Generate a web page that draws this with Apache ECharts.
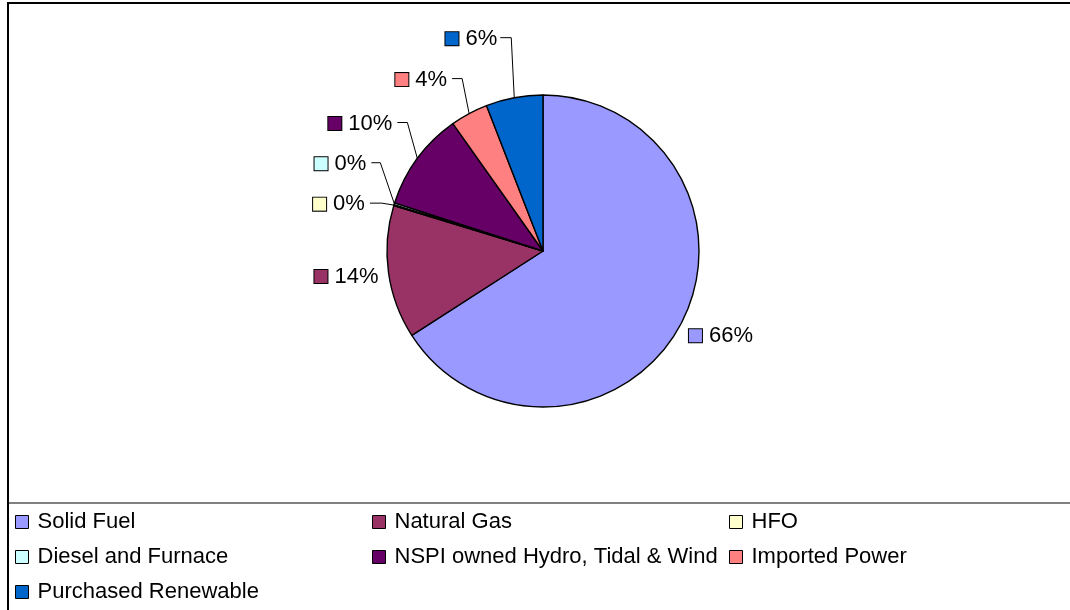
<!DOCTYPE html>
<html>
<head>
<meta charset="utf-8">
<script src="https://cdn.jsdelivr.net/npm/echarts@6/dist/echarts.min.js"></script>
<style>
html,body{margin:0;padding:0;background:#fff;}
#chart{width:1070px;height:610px;}
</style>
</head>
<body>
<div id="chart"></div>
<script>
// ---- data ----
const categories = ['Solid Fuel', 'Natural Gas', 'HFO', 'Diesel and Furnace',
  'NSPI owned Hydro, Tidal & Wind', 'Imported Power', 'Purchased Renewable'];
const shares = [65.9, 13.8, 0.1, 0.2, 10.2, 3.9, 5.9];
const colors = ['#9999FF', '#993366', '#FFFFCC', '#CCFFFF', '#660066', '#FF8080', '#0066CC'];
const legendCol1 = ['Solid Fuel', 'Diesel and Furnace', 'Purchased Renewable'];
const legendCol2 = ['Natural Gas', 'NSPI owned Hydro, Tidal & Wind'];
const legendCol3 = ['HFO', 'Imported Power'];

const FONT = "'Liberation Sans', Arial, sans-serif";

// label placement relative to slice edge point (Excel-like arrangement)
const labelPlace = [
  { dx: 9, dy: 10, align: 'left', line: false },
  { dx: -10, dy: 4, align: 'right', line: false },
  { dx: -29, dy: -1, align: 'right', line: true, elbow: -12, gap: 5 },
  { dx: -28, dy: -40, align: 'right', line: true, elbow: -14, gap: 5 },
  { dx: -25, dy: -35, align: 'right', line: true, elbow: -10, gap: 5 },
  { dx: -22, dy: -34, align: 'right', line: true, elbow: -7, gap: 5 },
  { dx: -17, dy: -59, align: 'right', line: true, elbow: -3, gap: 3 }
];

const rich = {
  t: { fontSize: 22, fontFamily: FONT, color: '#000', padding: [0, 0, 0, 7], lineHeight: 26 }
};
colors.forEach((c, i) => {
  rich['k' + i] = { width: 13, height: 13, backgroundColor: c, borderColor: '#000', borderWidth: 1 };
});

const seriesData = categories.map((name, i) => ({
  name: name,
  value: shares[i],
  itemStyle: { color: colors[i] },
  labelLine: labelPlace[i].line ? {} : { lineStyle: { opacity: 0 } }
}));

const chart = echarts.init(document.getElementById('chart'), null, { renderer: 'canvas' });

const legendBase = {
  orient: 'vertical',
  padding: 0,
  itemWidth: 13,
  itemHeight: 13,
  itemGap: 13,
  icon: 'rect',
  itemStyle: { borderColor: '#000', borderWidth: 1 },
  textStyle: { fontSize: 22, fontFamily: FONT, color: '#000', lineHeight: 22, padding: [0, 0, 0, 4] },
  selectedMode: false
};

chart.setOption({
  animation: false,
  backgroundColor: '#fff',
  legend: [
    Object.assign({}, legendBase, { left: 15, top: 511, data: legendCol1 }),
    Object.assign({}, legendBase, { left: 372, top: 511, data: legendCol2 }),
    Object.assign({}, legendBase, { left: 729, top: 511, data: legendCol3 })
  ],
  graphic: [
    { type: 'line', shape: { x1: 7, y1: 3, x2: 1070, y2: 3 }, style: { stroke: '#000', lineWidth: 2 } },
    { type: 'line', shape: { x1: 8, y1: 2, x2: 8, y2: 610 }, style: { stroke: '#000', lineWidth: 2 } },
    { type: 'line', shape: { x1: 9, y1: 503, x2: 1070, y2: 503 }, style: { stroke: '#808080', lineWidth: 2 } }
  ],
  series: [{
    type: 'pie',
    center: [543, 251],
    radius: 156,
    startAngle: 90,
    clockwise: true,
    avoidLabelOverlap: false,
    minShowLabelAngle: 0,
    data: seriesData,
    itemStyle: { borderColor: '#000', borderWidth: 1.4 },
    emphasis: { disabled: true },
    label: {
      show: true,
      position: 'outside',
      formatter: function (p) {
        return '{k' + p.dataIndex + '|}{t|' + Math.round(p.percent) + '%}';
      },
      rich: rich
    },
    labelLine: {
      show: true,
      length: 10,
      length2: 10,
      lineStyle: { color: '#000', width: 1 }
    },
    labelLayout: function (p) {
      const pts = p.labelLinePoints;
      if (!pts) return {};
      const e = pts[0];
      const cfg = labelPlace[p.dataIndex];
      const lx = e[0] + cfg.dx;
      const ly = e[1] + cfg.dy;
      const out = { x: lx, y: ly, align: cfg.align, verticalAlign: 'middle' };
      if (cfg.line) {
        const endX = lx + cfg.gap;
        const elbowX = e[0] + cfg.elbow;
        out.labelLinePoints = [[e[0], e[1]], [elbowX, ly - 1], [endX, ly - 1]];
      } else {
        out.labelLinePoints = [[e[0], e[1]], [e[0], e[1]], [e[0], e[1]]];
      }
      return out;
    }
  }]
});
</script>
</body>
</html>
